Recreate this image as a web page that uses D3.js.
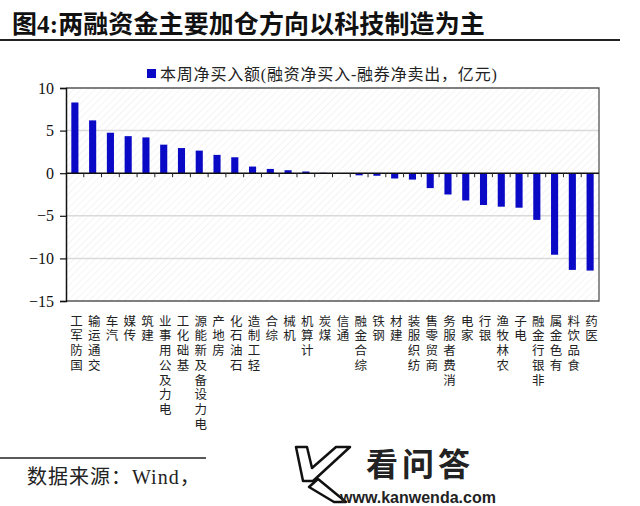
<!DOCTYPE html>
<html><head><meta charset="utf-8">
<script src="https://cdn.jsdelivr.net/npm/d3@7"></script>
<style>
html,body{margin:0;padding:0;background:#fff;}
svg{display:block;}
</style></head>
<body>
<script>
const categories = ["国防军工","交通运输","汽车","传媒","建筑","电力及公用事业","基础化工","电力设备及新能源","房地产","石油石化","轻工制造","综合","机械","计算机","煤炭","通信","综合金融","钢铁","建材","纺织服装","商贸零售","消费者服务","家电","银行","农林牧渔","电子","非银行金融","有色金属","食品饮料","医药"];
const values = [8.3, 6.2, 4.75, 4.35, 4.2, 3.35, 2.95, 2.65, 2.15, 1.87, 0.78, 0.5, 0.35, 0.2, 0.05, -0.03, -0.25, -0.3, -0.62, -0.75, -1.75, -2.5, -3.2, -3.73, -3.93, -4.05, -5.48, -9.57, -11.35, -11.43];
const yTicks = [-15, -10, -5, 0, 5, 10];
const gridTicks = [-10, -5, 5];
const titleText = "图4:两融资金主要加仓方向以科技制造为主";
const legendText = "本周净买入额(融资净买入-融券净卖出，亿元)";
const sourceText = "数据来源：Wind，";

(function(){
const W = 640, H = 506;
const serif = "'Liberation Serif','Times New Roman','Noto Sans CJK SC',serif";
const cjk = "'Noto Sans CJK SC','Liberation Serif',sans-serif";
const barColor = "#0a0ac6";

const svg = d3.select("body").append("svg").attr("width", W).attr("height", H);

const defs = svg.append("defs");
const pat = defs.append("pattern").attr("id","hatch").attr("patternUnits","userSpaceOnUse")
  .attr("width",5).attr("height",5).attr("patternTransform","rotate(45)");
pat.append("rect").attr("width",5).attr("height",5).attr("fill","#ffffff");
pat.append("line").attr("x1",0).attr("y1",0).attr("x2",0).attr("y2",5).attr("stroke","#f1f1f1").attr("stroke-width",1.5);

// Title
svg.append("text").attr("x", 12).attr("y", 33)
  .attr("font-family", serif).attr("font-weight","bold").attr("font-size", 25)
  .attr("letter-spacing", 0.1).attr("fill","#111").text(titleText);
svg.append("line").attr("x1",0).attr("x2",620).attr("y1",40).attr("y2",40)
  .attr("stroke","#222").attr("stroke-width",1.8);

const pLeft = 66, pRight = 599, pTop = 88, pBottom = 301;
const x = d3.scaleBand().domain(categories).range([pLeft, pRight]).paddingInner(0.6).paddingOuter(0.3);
const y = d3.scaleLinear().domain([-15, 10]).range([pBottom, pTop]);

// plot background
svg.append("rect").attr("x", pLeft).attr("y", pTop).attr("width", pRight-pLeft).attr("height", pBottom-pTop)
  .attr("fill","url(#hatch)");

// gridlines
svg.append("g").selectAll("line").data(gridTicks).join("line")
  .attr("x1", pLeft).attr("x2", pRight).attr("y1", d => y(d)).attr("y2", d => y(d))
  .attr("stroke","#dadada").attr("stroke-width",1.5);

// frame
svg.append("path").attr("d", `M${pLeft},${pTop}H${pRight}V${pBottom}H${pLeft}`)
  .attr("fill","none").attr("stroke","#555").attr("stroke-width",1.3);

// bars
svg.append("g").selectAll("rect").data(values).join("rect")
  .attr("x", (d,i) => x(categories[i]))
  .attr("width", x.bandwidth())
  .attr("y", d => y(Math.max(0,d)))
  .attr("height", d => Math.abs(y(d) - y(0)))
  .attr("fill", barColor);

// y axis
const yAxis = svg.append("g").attr("transform", `translate(${pLeft},0)`)
  .call(d3.axisLeft(y).tickValues(yTicks).tickSize(6).tickPadding(6).tickFormat(d3.format("d")));
yAxis.select(".domain").attr("stroke","#111").attr("stroke-width",1.5);
yAxis.selectAll(".tick line").attr("stroke","#111").attr("stroke-width",1.2);
yAxis.selectAll(".tick text").attr("font-family", serif).attr("font-size", 16).attr("fill","#111");

// zero line and category ticks
svg.append("line").attr("x1", pLeft).attr("x2", pRight).attr("y1", y(0)).attr("y2", y(0))
  .attr("stroke","#111").attr("stroke-width",1.5);
const step = x.step();
svg.append("g").selectAll("line").data(categories.slice(0, -1)).join("line")
  .attr("x1", d => x(d) + x.bandwidth()/2 + step/2)
  .attr("x2", d => x(d) + x.bandwidth()/2 + step/2)
  .attr("y1", y(0)).attr("y2", y(0) + 4)
  .attr("stroke","#222").attr("stroke-width",1);

// x labels: text rotated -90 (reads bottom to top) with each glyph turned back upright
const fs = 12.5, charStep = 14.7;
svg.append("g").selectAll("text").data(categories).join("text")
  .attr("transform", d => `translate(${x(d) + x.bandwidth()/2 + 1.5 - fs/2},311) rotate(-90)`)
  .attr("x", 0).attr("y", 0)
  .attr("text-anchor", "end")
  .attr("rotate", 90)
  .attr("letter-spacing", charStep - fs)
  .attr("font-family", cjk).attr("font-size", fs).attr("fill", "#222")
  .text(d => d);

// legend
svg.append("rect").attr("x",147).attr("y",69).attr("width",9).attr("height",9).attr("fill", barColor);
svg.append("text").attr("x",160).attr("y",80).attr("font-family", serif).attr("font-size",16)
  .attr("letter-spacing", 0.8).attr("fill","#222").text(legendText);

// footer
svg.append("line").attr("x1",0).attr("x2",206).attr("y1",458).attr("y2",458).attr("stroke","#222").attr("stroke-width",1.5);
svg.append("text").attr("x",27).attr("y",484).attr("font-family", serif).attr("font-size",20)
  .attr("letter-spacing", 1).attr("fill","#222").text(sourceText);

// watermark
const wm = svg.append("g");
wm.append("path").attr("d","M296,447 L307,447 L312,468 L336,447 L350,447 L313,481 L303,481 Z")
  .attr("fill","#fff").attr("stroke","#111").attr("stroke-width",2.5).attr("stroke-linejoin","round");
wm.append("path").attr("d","M309,487 L318,479 L346,502 L334,502 Z")
  .attr("fill","#fff").attr("stroke","#111").attr("stroke-width",2.5).attr("stroke-linejoin","round");
wm.append("text").attr("x",366).attr("y",476).attr("font-family","'Noto Sans CJK SC',sans-serif")
  .attr("font-weight","bold").attr("font-size",32).attr("letter-spacing",4).attr("fill","#222").text("看问答");
wm.append("text").attr("x",340).attr("y",503).attr("font-family","'Liberation Sans',Arial,sans-serif")
  .attr("font-weight","bold").attr("font-size",16).attr("fill","#222").text("www.kanwenda.com");
})();
</script>
</body></html>
